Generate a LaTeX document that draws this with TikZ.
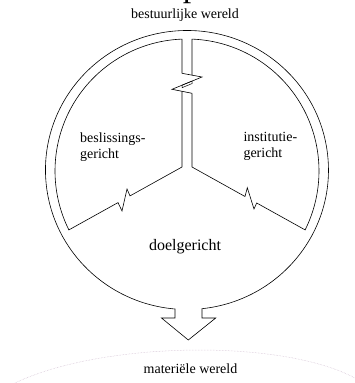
\documentclass[tikz,border=0pt]{standalone}
\usepackage{fontspec}
\setmainfont{Liberation Serif}
\definecolor{arccol}{RGB}{205,185,205}
\begin{document}
\begin{tikzpicture}[x=1pt,y=-1pt,
  lbl/.style={font=\fontsize{14}{15}\selectfont, inner sep=0pt},
  biglbl/.style={font=\fontsize{16}{17}\selectfont, inner sep=0pt},
  ln/.style={draw=black, line width=0.6pt, line join=miter}]
\useasboundingbox (0,0) rectangle (355,383);
\begin{scope}
  \clip (0,0) rectangle (355,383);
  \node[font=\fontsize{34}{34}\selectfont, inner sep=0pt, anchor=base west] (frag) at (182.7,-3.4) {p};
\end{scope}
% outer ring with arrow
\draw[ln] (202,308.7) arc[start angle=83.9, end angle=-265.14, x radius=141.5, y radius=139.5]
  -- (175,318) -- (161.5,318) -- (188.3,340) -- (215.7,318) -- (202,318) -- cycle;
% inner left arc and left divider
\draw[ln] (182,73.3) -- (182,39.1) arc[start angle=-92.17, end angle=-206.5, radius=132]
  -- (118,202.6) -- (122,211) -- (127,189) -- (130,195.9) -- (182,167) -- (182,91.3);
% inner right arc and right divider
\draw[ln] (192,75.15) -- (192,39.1) arc[start angle=-87.83, end angle=26.5, radius=132]
  -- (256.7,203) -- (254,209) -- (247.3,187.7) -- (245,196.5) -- (192,167) -- (192,93.3);
% zigzag break in the vertical divider
\draw[ln] (182,73.3) -- (202,77) -- (172,89.3) -- (192,93.3);
\draw[ln, line width=0.5pt] (182,85.2) -- (192,81.1) -- (192,83.6) -- (182,87.7) -- cycle;
% faint lower arc
\draw[arccol, densely dotted, line width=0.5pt] (15,383) .. controls (100,342) and (280,338) .. (355,378);
% labels
\node[lbl, anchor=base] (top) at (185,18.3) {bestuurlijke wereld};
\node[lbl, anchor=base west] (b1) at (80,142.7) {beslissings-};
\node[lbl, anchor=base west] (b2) at (80,158) {gericht};
\node[lbl, anchor=base west] (i1) at (243.3,141.7) {institutie-};
\node[lbl, anchor=base west] (i2) at (243.3,157) {gericht};
\node[biglbl, anchor=base] (doel) at (185,250.7) {doelgericht};
\node[lbl, anchor=base] (mat) at (190.5,373) {materiële wereld};
\end{tikzpicture}
\end{document}
